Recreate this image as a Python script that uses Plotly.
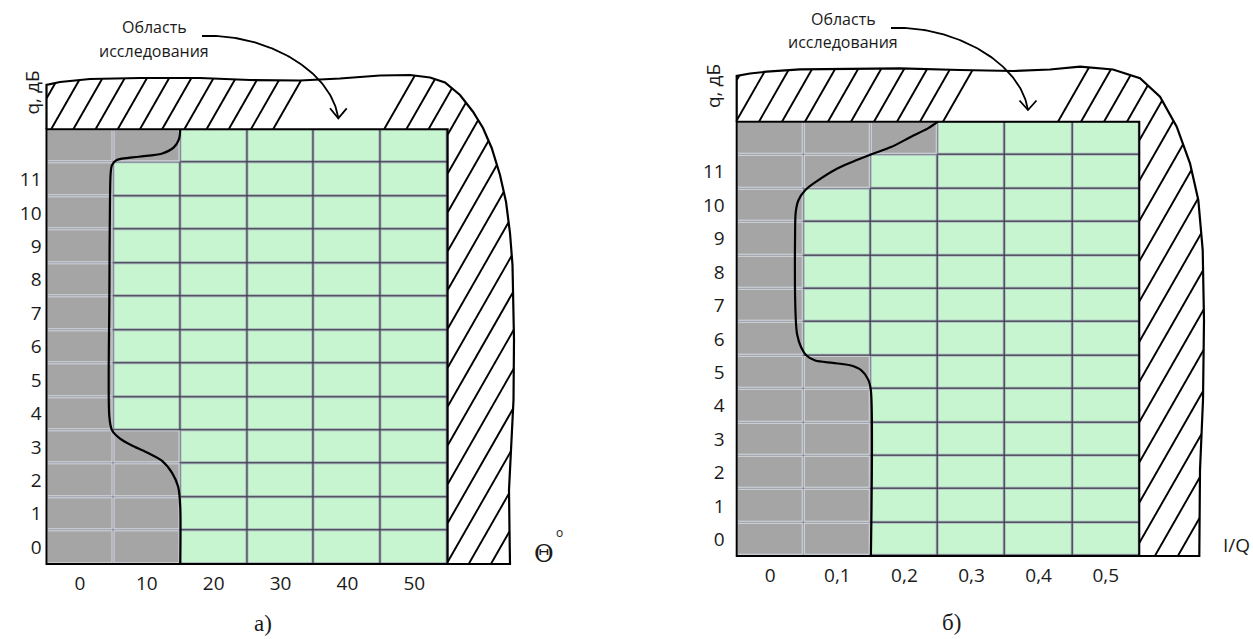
import numpy as np
import plotly.graph_objects as go

W, H = 1253, 639

# ---------------- data ----------------
x_labels_a = ["0", "10", "20", "30", "40", "50"]
x_labels_b = ["0", "0,1", "0,2", "0,3", "0,4", "0,5"]
y_labels = [str(i) for i in range(12)]          # q, dB rows 0..11 (+ one unlabeled top row)

# 1 = research area (green), 0 = excluded (gray); rows listed bottom -> top
cells_a = [
    [0, 0, 1, 1, 1, 1],
    [0, 0, 1, 1, 1, 1],
    [0, 0, 1, 1, 1, 1],
    [0, 0, 1, 1, 1, 1],
    [0, 1, 1, 1, 1, 1],
    [0, 1, 1, 1, 1, 1],
    [0, 1, 1, 1, 1, 1],
    [0, 1, 1, 1, 1, 1],
    [0, 1, 1, 1, 1, 1],
    [0, 1, 1, 1, 1, 1],
    [0, 1, 1, 1, 1, 1],
    [0, 1, 1, 1, 1, 1],
    [0, 0, 1, 1, 1, 1],
]
cells_b = [
    [0, 0, 1, 1, 1, 1],
    [0, 0, 1, 1, 1, 1],
    [0, 0, 1, 1, 1, 1],
    [0, 0, 1, 1, 1, 1],
    [0, 0, 1, 1, 1, 1],
    [0, 0, 1, 1, 1, 1],
    [0, 1, 1, 1, 1, 1],
    [0, 1, 1, 1, 1, 1],
    [0, 1, 1, 1, 1, 1],
    [0, 1, 1, 1, 1, 1],
    [0, 1, 1, 1, 1, 1],
    [0, 0, 1, 1, 1, 1],
    [0, 0, 0, 1, 1, 1],
]

# boundary curves (grid units: column edges 0..6, row edges 0..13)
curve_a_x = [2.0, 2.0, 1.97, 1.88, 1.72, 1.52, 1.30, 1.10, 0.98, 0.94, 0.94, 0.95, 0.96, 0.98, 1.05, 1.38, 1.72, 1.90, 1.98, 2.0]
curve_a_y = [0.0, 1.7, 2.3, 2.72, 3.10, 3.32, 3.52, 3.75, 4.0, 4.4, 8.0, 11.0, 11.7, 11.93, 12.08, 12.18, 12.27, 12.45, 12.70, 13.0]
curve_b_x = [2.0, 2.0, 1.96, 1.85, 1.69, 1.43, 1.17, 1.04, 0.96, 0.90, 0.88, 0.87, 0.88, 0.92, 1.02, 1.18, 1.50, 1.80, 2.0, 2.30, 2.60, 2.85, 3.0]
curve_b_y = [0.0, 4.95, 5.28, 5.57, 5.71, 5.78, 5.85, 6.0, 6.25, 6.64, 7.1, 9.6, 10.3, 10.65, 10.95, 11.2, 11.6, 11.86, 12.02, 12.24, 12.55, 12.8, 13.0]

GRAY = "#a5a5a5"
GREEN = "#c6f5cf"

# ---------------- panel geometry (figure pixels, decoration) ----------------
PANELS = [
    dict(L=46.5, R=447.7, T=129.3, B=564.0, dom=(0.0, 0.5), xa="x", ya="y",
         cells=cells_a, cx=curve_a_x, cy=curve_a_y, xt=x_labels_a, ystand=5,
         outer=[(46.5, 85), (60, 82), (90, 79), (140, 78), (200, 78), (250, 80), (300, 80.5),
                (340, 78.5), (380, 75.5), (410, 75), (430, 77.5), (445, 82.5), (460, 95),
                (473, 111.7), (483, 128), (491.7, 148), (500, 175), (506, 201.7), (510, 233),
                (512.5, 265), (513.5, 300), (514, 340), (513.5, 400), (511, 450), (509, 490),
                (509.5, 530), (510, 564)],
         hatch_c0=73.3, hatch_step=22.2, gap=(276, 372),
         arrow=[(202, 36), (262, 33), (331, 68), (338.3, 118.3)],
         head=[(330, 108.3), (338.3, 118.3), (346.7, 108.3)],
         text=(154, 27, 50.5)),
    dict(L=736.7, R=1139.3, T=121.7, B=556.0, dom=(0.5, 1.0), xa="x2", ya="y2",
         cells=cells_b, cx=curve_b_x, cy=curve_b_y, xt=x_labels_b, ystand=12,
         outer=[(736.7, 76), (750, 73.5), (766.7, 71.7), (800, 69.3), (850, 68.5), (900, 68.3),
                (960, 70), (1013, 71), (1050, 69.5), (1080, 66.7), (1113, 69.5), (1140, 78.3),
                (1160, 96.7), (1176.7, 126.7), (1190, 163.3), (1198.3, 200), (1202.7, 250),
                (1204, 320), (1203, 400), (1200, 470), (1199.3, 556)],
         hatch_c0=759.0, hatch_step=23.0, gap=(965, 1058),
         arrow=[(891, 28), (950, 25), (1020, 60), (1028, 110)],
         head=[(1019.5, 100.5), (1028, 110), (1036.5, 100.5)],
         text=(843, 19, 41.7)),
]
SLOPE = 1.75  # hatch line steepness (dy/dx in pixels)


def inside(x, y, poly):
    res = np.zeros(x.shape, bool)
    n = len(poly)
    j = n - 1
    for i in range(n):
        xi, yi = poly[i]
        xj, yj = poly[j]
        cond = ((yi > y) != (yj > y)) & (x < (xj - xi) * (y - yi) / (yj - yi + 1e-12) + xi)
        res ^= cond
        j = i
    return res


def bezier(p, n=80):
    t = np.linspace(0, 1, n)[:, None]
    p = np.array(p, float)
    return ((1 - t) ** 3 * p[0] + 3 * (1 - t) ** 2 * t * p[1] + 3 * (1 - t) * t ** 2 * p[2] + t ** 3 * p[3])


fig = go.Figure()
shapes = []
annotations = []
layout_axes = {}

for k, P in enumerate(PANELS):
    L, R, T, B = P["L"], P["R"], P["T"], P["B"]
    ux, uy = (R - L) / 6.0, (B - T) / 13.0
    dx = lambda px: (np.asarray(px, float) - L) / ux
    dy = lambda py: (B - np.asarray(py, float)) / uy
    xa, ya = P["xa"], P["ya"]
    suffix = "" if k == 0 else "2"

    # dark grid background (shows through heatmap gaps)
    shapes.append(dict(type="rect", xref=xa, yref=ya, x0=0, x1=6, y0=0, y1=13,
                       fillcolor="#34343f", line=dict(width=0), layer="below"))

    xs = [i + 0.5 for i in range(6)]
    ys = [j + 0.5 for j in range(13)]
    z = np.array(P["cells"], float)
    z_gray = np.where(z == 0, 0.0, np.nan)
    z_green = np.where(z == 1, 1.0, np.nan)
    # bevel rims: light around gray cells, blue-gray around green cells
    fig.add_trace(go.Heatmap(z=z_gray, x=xs, y=ys, zmin=0, zmax=1, showscale=False,
                             colorscale=[[0, "#d6dae1"], [1, "#d6dae1"]],
                             xgap=0.4, ygap=0.4, hoverinfo="skip", xaxis=xa, yaxis=ya))
    fig.add_trace(go.Heatmap(z=z_green, x=xs, y=ys, zmin=0, zmax=1, showscale=False,
                             colorscale=[[0, "#aeb9c5"], [1, "#aeb9c5"]],
                             xgap=1.2, ygap=1.2, hoverinfo="skip", xaxis=xa, yaxis=ya))
    # cell fills
    fig.add_trace(go.Heatmap(z=P["cells"], x=xs, y=ys, zmin=0, zmax=1, showscale=False,
                             colorscale=[[0, GRAY], [0.5, GRAY], [0.5, GREEN], [1, GREEN]],
                             xgap=3, ygap=3, hoverinfo="skip", xaxis=xa, yaxis=ya))

    # hatch lines clipped to the hatched band
    poly = [(L, T)] + P["outer"] + [(R, B), (R, T)]
    hx, hy = [], []
    yy = np.arange(0, H, 0.25)
    c = P["hatch_c0"]
    while c > L - 400:
        c -= P["hatch_step"]
    while c < R + 400:
        c += P["hatch_step"]
        if P["gap"][0] < c < P["gap"][1]:
            continue
        xx = c + (T - yy) / SLOPE
        m = inside(xx, yy, poly)
        if not m.any():
            continue
        idx = np.flatnonzero(m)
        breaks = np.flatnonzero(np.diff(idx) > 1)
        starts = np.r_[idx[0], idx[breaks + 1]]
        ends = np.r_[idx[breaks], idx[-1]]
        for s, e in zip(starts, ends):
            if e - s < 4:
                continue
            hx += [xx[s], xx[e], None]
            hy += [yy[s], yy[e], None]
    hxd = [None if v is None else float(dx(v)) for v in hx]
    hyd = [None if v is None else float(dy(v)) for v in hy]
    fig.add_trace(go.Scatter(x=hxd, y=hyd, mode="lines", line=dict(color="black", width=1.9),
                             hoverinfo="skip", showlegend=False, xaxis=xa, yaxis=ya))

    # hatch outer outline
    ox = [L] + [p[0] for p in P["outer"]] + [R]
    oy = [T] + [p[1] for p in P["outer"]] + [B]
    fig.add_trace(go.Scatter(x=dx(ox), y=dy(oy), mode="lines", line=dict(color="black", width=2.2),
                             hoverinfo="skip", showlegend=False, xaxis=xa, yaxis=ya))

    # grid frame
    shapes.append(dict(type="rect", xref=xa, yref=ya, x0=0, x1=6, y0=0, y1=13,
                       line=dict(color="black", width=2), layer="above"))

    # boundary curve
    fig.add_trace(go.Scatter(x=P["cx"], y=P["cy"], mode="lines",
                             line=dict(color="black", width=2.2, shape="spline", smoothing=0.8),
                             hoverinfo="skip", showlegend=False, xaxis=xa, yaxis=ya))

    # arrow
    bz = bezier(P["arrow"])
    fig.add_trace(go.Scatter(x=dx(bz[:, 0]), y=dy(bz[:, 1]), mode="lines",
                             line=dict(color="black", width=1.8), hoverinfo="skip",
                             showlegend=False, xaxis=xa, yaxis=ya))
    hd = np.array(P["head"])
    fig.add_trace(go.Scatter(x=dx(hd[:, 0]), y=dy(hd[:, 1]), mode="lines",
                             line=dict(color="black", width=1.8), hoverinfo="skip",
                             showlegend=False, xaxis=xa, yaxis=ya))

    tx, t1, t2 = P["text"]
    for txt, ty in (("Область", t1), ("исследования", t2)):
        annotations.append(dict(text=txt, x=tx / W, y=1 - ty / H, xref="paper", yref="paper",
                                xanchor="center", yanchor="middle", showarrow=False,
                                font=dict(family="Open Sans", size=16, color="#1a1a1a")))

    d0, d1 = P["dom"]
    layout_axes["xaxis" + suffix] = dict(
        domain=[d0, d1], range=[(d0 * W - L) / ux, (d1 * W - L) / ux], anchor="free",
        position=(H - B) / H, tickvals=xs, ticktext=P["xt"], showgrid=False, zeroline=False,
        showline=False, ticks="", ticklabelstandoff=6, automargin=False, fixedrange=True,
        tickfont=dict(family="Open Sans", size=19, color="#1a1a1a"))
    layout_axes["yaxis" + suffix] = dict(
        domain=[0, 1], range=[(B - H) / uy, B / uy], anchor="free", position=L / W,
        tickvals=[j + 0.5 for j in range(12)], ticktext=y_labels, showgrid=False, zeroline=False,
        showline=False, ticks="", ticklabelstandoff=P["ystand"], automargin=False, fixedrange=True,
        tickfont=dict(family="Open Sans", size=19, color="#1a1a1a"))

# axis name labels and captions
def ann(text, px, py, size, family="Open Sans", angle=0, xanchor="center", yanchor="middle"):
    annotations.append(dict(text=text, x=px / W, y=1 - py / H, xref="paper", yref="paper",
                            xanchor=xanchor, yanchor=yanchor, showarrow=False, textangle=angle,
                            font=dict(family=family, size=size, color="#1a1a1a")))

ann("q, дБ", 31.5, 93, 19, angle=-90)
ann("q, дБ", 713, 86, 19, angle=-90)
ann("Θ", 544, 554, 24, family="DejaVu Serif")
ann("o", 554, 543, 12, xanchor="left", yanchor="bottom")
ann("I/Q", 1236, 545, 19)
ann("а)", 263, 623, 23, family="Liberation Serif")
ann("б)", 951, 622, 23, family="Liberation Serif")

fig.update_layout(width=W, height=H, margin=dict(l=0, r=0, t=0, b=0),
                  plot_bgcolor="white", paper_bgcolor="white", showlegend=False,
                  shapes=shapes, annotations=annotations, **layout_axes)

fig.write_html("out.html", post_script="document.body.style.margin='0';",
               config={"displayModeBar": False})
